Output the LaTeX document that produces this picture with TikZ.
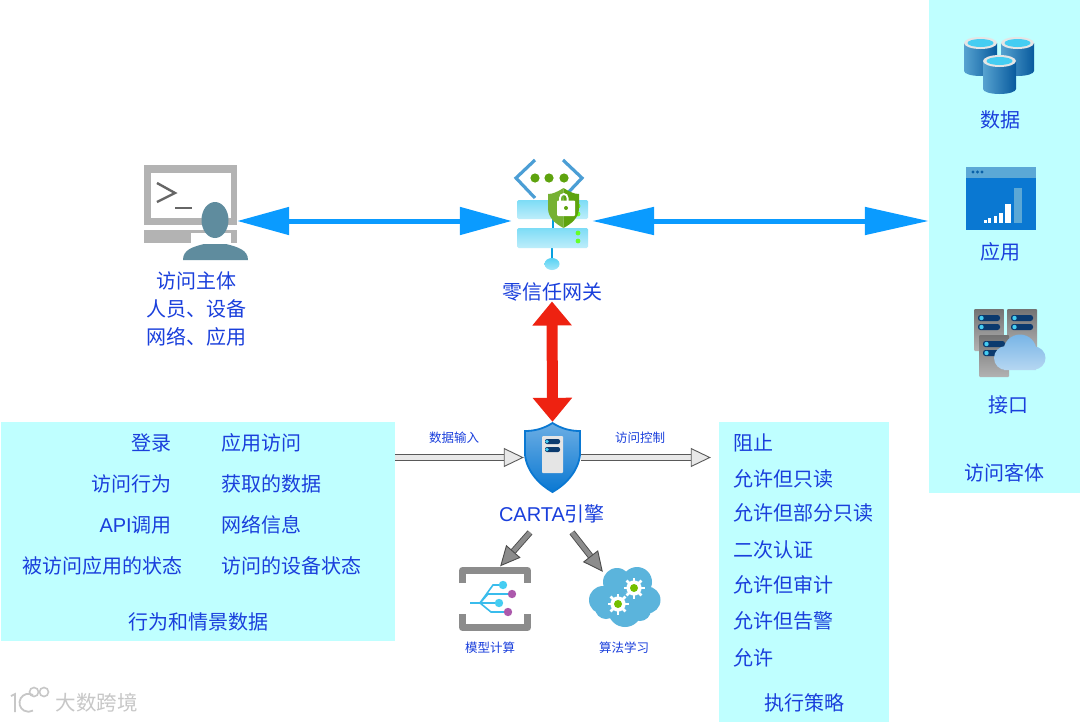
\documentclass[tikz,border=0pt]{standalone}
\usepackage{fontspec}
\setmainfont{Noto Sans CJK SC}
\newfontfamily\latfont{Liberation Sans}
\usetikzlibrary{arrows.meta, calc}
\definecolor{panelcyan}{HTML}{BFFFFF}
\definecolor{txtblue}{HTML}{1A3FDC}
\definecolor{flowblue}{HTML}{0A9BFF}
\definecolor{alarmred}{HTML}{EE2211}
\definecolor{termgray}{HTML}{B3B3B3}
\definecolor{personteal}{HTML}{5F8C9E}
\definecolor{azureblue}{HTML}{0A78D2}
\definecolor{paleblue}{HTML}{5BA8D6}
\definecolor{navypill}{HTML}{0B3A6E}
\definecolor{lightcyan}{HTML}{45CDF2}
\definecolor{leafgreen}{HTML}{5EA30E}
\definecolor{cloudblue}{HTML}{5BB4DC}
\newcommand{\bigtxt}{\fontsize{20}{24}\selectfont}
\newcommand{\smalltxt}{\fontsize{12.5}{15}\selectfont}
\tikzset{
  panel/.style={fill=panelcyan, inner sep=0pt},
  iconbox/.style={inner sep=0pt},
  txt/.style={font=\bigtxt, text=txtblue, inner sep=0pt},
  smalltxt/.style={font=\smalltxt, text=txtblue, inner sep=0pt},
  flowarrow/.style={draw=flowblue, line width=5pt},
  grayarrow/.style={draw=black!65, line width=.9pt, double=black!9, double distance=4.5pt,
    -{Triangle[length=20pt, width=19pt, fill=black!9, line width=.9pt]}},
  hatcharrow/.style={draw=black!70, line width=.9pt, double=black!45, double distance=4.5pt,
    -{Triangle[length=20pt, width=19pt, fill=black!45, line width=.9pt]}}
}

\begin{document}
\begin{tikzpicture}[x=1pt, y=-1pt]
\useasboundingbox (0,0) rectangle (1080,723);
\fill[white] (0,0) rectangle (1080,723);

% Panels
\node[panel, minimum width=151pt, minimum height=493pt] (objects) at (1004.5,246.5) {};
\node[panel, minimum width=394pt, minimum height=219pt] (behav) at (198,531.5) {};
\node[panel, minimum width=170pt, minimum height=300pt] (policy) at (804,572) {};

% Icon places
\node[iconbox, minimum width=94pt, minimum height=96pt] (subject) at (190,213) {};
\node[iconbox, minimum width=80pt, minimum height=110pt] (gate) at (552,215) {};
\node[iconbox, minimum width=57pt, minimum height=71pt] (carta) at (552.5,457.5) {};
\node[iconbox, minimum width=72pt, minimum height=65pt] (model) at (495,599) {};
\node[iconbox, minimum width=71pt, minimum height=60pt] (algo) at (624.5,597) {};

% Terminal
\fill[termgray] (144,165) rectangle (237,225);
\fill[white] (151,173) rectangle (231,218);
\fill[termgray] (144,230) rectangle (237,243);
\fill[white] (191,233) rectangle (231,243);
\draw[black!60, line width=2.4pt] (157,183) -- (175,193) -- (157,202);
\draw[black!60, line width=2pt] (175,208) -- (192,208);

% Person
\fill[personteal] (183,260) .. controls (183,250) and (192,247) .. (204,244) -- (226,244)
  .. controls (238,247) and (248,250) .. (248,260) -- cycle;
\fill[personteal] (215,220) ellipse (13.5pt and 18pt);

% Gateway icon
\draw[paleblue!80!azureblue, line width=3.2pt] (535,160) -- (516,178) -- (535,198);
\draw[paleblue!80!azureblue, line width=3.2pt] (563,160) -- (582,178) -- (563,198);
\foreach \dotx in {535,549,564}
  \fill[leafgreen] (\dotx,178) circle (4.6pt);
\draw[azureblue!70!cyan, line width=2.4pt] (552,247) -- (552,262);
\fill[azureblue!70!cyan] (552,219) rectangle (554,228);
\shade[top color=lightcyan!70, bottom color=lightcyan!35, rounded corners=1.5pt] (517,200) rectangle (588,219);
\shade[top color=lightcyan!70, bottom color=lightcyan!35, rounded corners=1.5pt] (517,228) rectangle (588,248);
\shade[top color=lightcyan!90, bottom color=lightcyan!50] (552,264) ellipse (7.5pt and 6pt);
\foreach \diody in {206,214,233,241}
  \fill[green!70!yellow!85!white] (578,\diody) circle (2.4pt);
\fill[leafgreen!85!white] (563.5,188) .. controls (557,192) and (553,194) .. (548,194) -- (548,208)
  .. controls (548,218) and (556,224) .. (563.5,228) -- cycle;
\fill[leafgreen] (563.5,188) .. controls (570,192) and (574,194) .. (579,194) -- (579,208)
  .. controls (579,218) and (571,224) .. (563.5,228) -- cycle;
\fill[white, rounded corners=1pt] (557,200.5) rectangle (575,216);
\draw[white, line width=1.8pt] (560,201) -- (560,198) arc (180:0:3.8pt and 4pt) -- (567.6,201);
\fill[leafgreen] (566,208) circle (2pt);

% Data cylinders
\foreach \cylx/\cyly in {980.5/43, 1017.5/43, 999.5/61} {
  \shade[left color=azureblue!45!black!5!paleblue, right color=azureblue!75!black]
    (\cylx-16.5,\cyly) -- (\cylx-16.5,\cyly+28) arc (180:360:16.5pt and 5pt) -- (\cylx+16.5,\cyly) -- cycle;
  \fill[black!10] (\cylx,\cyly) ellipse (16.5pt and 6pt);
  \fill[lightcyan] (\cylx,\cyly) ellipse (13pt and 4pt);
}

% App window
\fill[azureblue] (966,167) rectangle (1036,230);
\fill[paleblue] (966,167) rectangle (1036,178);
\foreach \dotx in {973,977.5,982}
  \fill[azureblue!80!black] (\dotx,172) circle (1.6pt);
\foreach \barl/\barr/\bart in {984/986.5/220, 988/991/218, 993.5/996.5/216, 998.5/1002.5/212.5, 1004.5/1010.5/203.5}
  \fill[white] (\barl,\bart) rectangle (\barr,222.7);
\fill[paleblue] (1013.5,187.5) rectangle (1022,222.7);

% API servers
\foreach \srvx/\srvy in {974/309, 1007/309, 979/335} {
  \shade[top color=black!55, bottom color=black!30, rounded corners=1pt] (\srvx,\srvy) rectangle (\srvx+30,\srvy+42);
  \foreach \pilly in {6,15} {
    \fill[navypill, rounded corners=2.5pt] (\srvx+4,\srvy+\pilly) rectangle (\srvx+26,\srvy+\pilly+6);
    \fill[lightcyan] (\srvx+7.5,\srvy+\pilly+3) circle (2.2pt);
  }
}
\shade[top color=azureblue!55!white, bottom color=azureblue!30!white]
  (1006,358) circle (12pt) (1020,351) circle (16.5pt) (1034,358) circle (11.5pt) (1004,358) rectangle (1036,370);

% CARTA shield
\shade[top color=azureblue!60!white, bottom color=azureblue, draw=azureblue, line width=1.8pt]
  (552.5,423) .. controls (543,429) and (534,431) .. (525,431) -- (525,455)
  .. controls (527,472) and (540,485) .. (552.5,492) .. controls (565,485) and (578,472) .. (580,455)
  -- (580,431) .. controls (571,431) and (562,429) .. (552.5,423) -- cycle;
\fill[black!10, rounded corners=1pt] (542,436) rectangle (563,473);
\foreach \pilly in {439,447} {
  \fill[navypill, rounded corners=2pt] (545,\pilly) rectangle (560,\pilly+5);
  \fill[lightcyan] (547,\pilly+2.5) circle (1.8pt);
}

% Model icon
\draw[black!45, line width=7pt, line join=round] (462.5,583) -- (462.5,570.5) -- (527.5,570.5) -- (527.5,583);
\draw[black!45, line width=7pt, line join=round] (462.5,614) -- (462.5,627.5) -- (527.5,627.5) -- (527.5,614);
\draw[lightcyan!80!azureblue, line width=1.6pt] (470,603) -- (480,603) -- (493,585) -- (503,585);
\draw[lightcyan!80!azureblue, line width=1.6pt] (480,603) -- (488,594) -- (512,594);
\draw[lightcyan!80!azureblue, line width=1.6pt] (480,603) -- (499,603);
\draw[lightcyan!80!azureblue, line width=1.6pt] (480,603) -- (491,612) -- (508,612);
\foreach \ballx/\bally in {503/585, 499/603}
  \fill[lightcyan] (\ballx,\bally) circle (4.2pt);
\foreach \ballx/\bally in {512/594, 508/612}
  \fill[violet!65!white] (\ballx,\bally) circle (4.2pt);

% Algo icon
\fill[cloudblue] (603,600) circle (14pt) (617,582) circle (14pt) (637,582) circle (15pt)
  (647,600) circle (13.5pt) (625,610) circle (17pt) (640,610) circle (11pt) (606,608) circle (11pt);
\foreach \gearx/\geary in {634/588, 618/604} {
  \fill[white] (\gearx,\geary) circle (7.6pt);
  \foreach \gearang in {0,45,...,315}
    \draw[white, line width=2.6pt] (\gearx,\geary) -- ++(\gearang:10.5);
  \fill[green!55!black!55!yellow] (\gearx,\geary) circle (4pt);
}

% Labels
\node[txt] (subjlbl1) at (196,281) {访问主体};
\node[txt] (subjlbl2) at (196,309) {人员、设备};
\node[txt] (subjlbl3) at (196,337) {网络、应用};
\node[txt] (gatelbl) at (552,292) {零信任网关};
\node[txt] (cartalbl) at (552,514) {{\latfont CARTA}引擎};
\node[txt] (datalbl) at (1000,120) {数据};
\node[txt] (applbl) at (1000,252) {应用};
\node[txt] (apilbl) at (1008,405) {接口};
\node[txt] (objlbl) at (1004,473) {访问客体};
\node[smalltxt] (inlbl) at (454,438) {数据输入};
\node[smalltxt] (ctllbl) at (640,438) {访问控制};
\node[smalltxt] (modellbl) at (490,648) {模型计算};
\node[smalltxt] (algolbl) at (624,648) {算法学习};

% Behaviour panel text
\node[txt, anchor=east] (beh1) at (172,443) {登录};
\node[txt, anchor=east] (beh2) at (172,484) {访问行为};
\node[txt, anchor=east] (beh3) at (172,525) {{\latfont API}调用};
\node[txt, anchor=east] (beh4) at (183,566) {被访问应用的状态};
\node[txt, anchor=west] (ctx1) at (221,443) {应用访问};
\node[txt, anchor=west] (ctx2) at (221,484) {获取的数据};
\node[txt, anchor=west] (ctx3) at (221,525) {网络信息};
\node[txt, anchor=west] (ctx4) at (221,566) {访问的设备状态};
\node[txt] (behlbl) at (198,622) {行为和情景数据};

% Policy panel text
\foreach \polname/\poly/\poltxt in {pol1/443/阻止, pol2/479/允许但只读, pol3/513/允许但部分只读,
    pol4/550/二次认证, pol5/585/允许但审计, pol6/621/允许但告警, pol7/658/允许}
  \node[txt, anchor=west] (\polname) at (733,\poly) {\poltxt};
\node[txt] (pollbl) at (804,703) {执行策略};

% Watermark
\node[font=\fontsize{20.5}{24}\selectfont, text=black!22, inner sep=0pt] (wmlbl) at (97,703) {大数跨境};
\draw[black!22, line width=1.8pt] (11,696) -- (15,694) -- (15,712);
\draw[black!22, line width=1.8pt] (33,695) arc (60:300:9pt and 9pt);
\draw[black!22, line width=1.6pt] (34,692) circle (4.5pt) (44,692) circle (4.5pt);

% Connectors
\draw[flowarrow, {Triangle[length=52pt, width=27pt]}-{Triangle[length=52pt, width=27pt]}]
  (subject.east |- 0,221) -- (gate.west |- 0,221);
\draw[flowarrow, {Triangle[length=62pt, width=27pt]}-{Triangle[length=64pt, width=27pt]}]
  (gate.east |- 0,221) -- (objects.west |- 0,221);
\draw[draw=alarmred, line width=11pt, {Triangle[length=24pt, width=38pt]}-{Triangle[length=24pt, width=38pt]}]
  (gatelbl.south) -- (carta.north);
\draw[grayarrow] (behav.east |- carta.west) -- (carta.west);
\draw[grayarrow, shorten >=8pt] (carta.east) -- (policy.west |- carta.east);
\draw[hatcharrow] ($(cartalbl.south)+(-22,9)$) -- (model.81);
\draw[hatcharrow] ($(cartalbl.south)+(20,9)$) -- ($(algo.north west)+(14,5)$);

\end{tikzpicture}
\end{document}
